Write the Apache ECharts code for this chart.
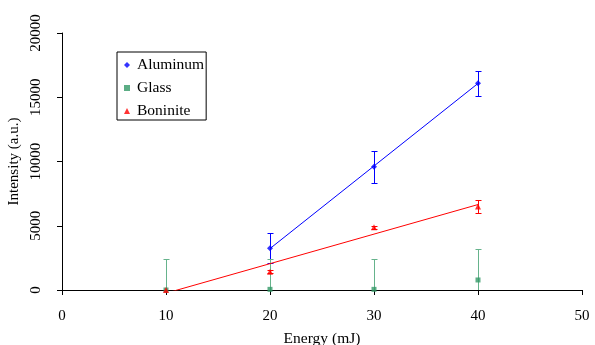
<!DOCTYPE html>
<html>
<head>
<meta charset="utf-8">
<script src="https://cdn.jsdelivr.net/npm/echarts@6/dist/echarts.min.js"></script>
<style>
html,body{margin:0;padding:0;background:#fff;}
#chart{width:595px;height:345px;}
</style>
</head>
<body>
<div id="chart"></div>
<script>
// Data
var energy = [10, 20, 30, 40];
var seriesNames = ['Aluminum', 'Glass', 'Boninite'];
var aluminumX = [20, 30, 40];
var aluminumY = [3250, 9600, 16080];
var aluminumErr = [1150, 1250, 1000];
var glassY = [0, 50, 50, 780];
var glassErr = [2400, 2400, 2400, 2400];
var boniniteY = [0, 1420, 4880, 6500];
var boniniteErr = [0, 120, 100, 480];
var aluminumFit = [[20, 3225], [40, 16075]];
var boniniteFit = [[10, -250], [40, 6650]];
var xTicks = [0, 10, 20, 30, 40, 50];
var yTicks = [0, 5000, 10000, 15000, 20000];

var FONT = '"Liberation Serif", "DejaVu Serif", serif';

function pts(xs, ys) { return xs.map(function (x, i) { return [x, ys[i]]; }); }
function errPts(xs, ys, es) { return xs.map(function (x, i) { return [x, ys[i], es[i]]; }); }

function errorBars(color) {
  return function (params, api) {
    var x = api.value(0), y = api.value(1), e = api.value(2);
    if (!e) return null;
    var hi = api.coord([x, y + e]);
    var lo = api.coord([x, y - e]);
    var cx = Math.round(hi[0]) + 0.5;
    var yh = Math.round(hi[1]) + 0.5, yl = Math.round(lo[1]) + 0.5;
    var st = { stroke: color, lineWidth: 1 };
    return {
      type: 'group',
      children: [
        { type: 'line', shape: { x1: cx, y1: yh, x2: cx, y2: yl }, style: st },
        { type: 'line', shape: { x1: cx - 3, y1: yh, x2: cx + 3, y2: yh }, style: st },
        { type: 'line', shape: { x1: cx - 3, y1: yl, x2: cx + 3, y2: yl }, style: st }
      ]
    };
  };
}

var BLUE = '#0000ff', GREEN = '#339966', GREEN_ERR = '#66b38c', RED = '#ff0000';

var chart = echarts.init(document.getElementById('chart'), null, { renderer: 'canvas' });
chart.setOption({
  animation: false,
  backgroundColor: '#ffffff',
  textStyle: { fontFamily: FONT },
  grid: { left: 62, right: 13, top: 33, bottom: 55, containLabel: false, outerBoundsMode: 'none' },
  legend: {
    orient: 'vertical',
    left: 117, top: 52,
    data: [
      { name: seriesNames[0], icon: 'diamond' },
      { name: seriesNames[1], icon: 'rect' },
      { name: seriesNames[2], icon: 'triangle' }
    ],
    itemWidth: 6, itemHeight: 6, itemGap: 7,
    padding: [5, 2, 1, 7],
    borderColor: '#000', borderWidth: 1,
    textStyle: { fontFamily: FONT, fontSize: 15.5, color: '#000', lineHeight: 16, padding: [0, 0, 0, 2] }
  },
  xAxis: {
    type: 'value', min: xTicks[0], max: xTicks[xTicks.length - 1], interval: 10,
    name: 'Energy (mJ)', nameLocation: 'middle', nameGap: 41,
    nameTextStyle: { fontFamily: FONT, fontSize: 15.5, color: '#000' },
    axisLine: { onZero: false, lineStyle: { color: '#000', width: 1 } },
    axisTick: { show: true, inside: false, length: 5, lineStyle: { color: '#000' } },
    axisLabel: { fontFamily: FONT, fontSize: 15, color: '#000', margin: 19 },
    splitLine: { show: false }
  },
  yAxis: {
    type: 'value', min: yTicks[0], max: yTicks[yTicks.length - 1], interval: 5000,
    name: 'Intensity (a.u.)', nameLocation: 'middle', nameGap: 33, nameRotate: 90,
    nameTextStyle: { fontFamily: FONT, fontSize: 15, color: '#000' },
    axisLine: { show: true, lineStyle: { color: '#000', width: 1 } },
    axisTick: { show: true, inside: false, length: 5, lineStyle: { color: '#000' } },
    axisLabel: {
      fontFamily: FONT, fontSize: 15, color: '#000', rotate: 90, margin: 18,
      formatter: function (v) { return String(v); }
    },
    splitLine: { show: false }
  },
  series: [
    {
      name: 'alErr', type: 'custom', renderItem: errorBars(BLUE), clip: true,
      data: errPts(aluminumX, aluminumY, aluminumErr), z: 2, silent: true
    },
    {
      name: 'glErr', type: 'custom', renderItem: errorBars(GREEN_ERR), clip: true,
      data: errPts(energy, glassY, glassErr), z: 3, silent: true
    },
    {
      name: 'boErr', type: 'custom', renderItem: errorBars(RED), clip: true,
      data: errPts(energy, boniniteY, boniniteErr), z: 3, silent: true
    },
    {
      name: 'alFit', type: 'line', data: aluminumFit, showSymbol: false, symbol: 'none',
      lineStyle: { color: BLUE, width: 1 }, z: 4, silent: true
    },
    {
      name: 'boFit', type: 'line', data: boniniteFit, showSymbol: false, symbol: 'none',
      lineStyle: { color: RED, width: 1 }, z: 4, silent: true, clip: true
    },
    {
      name: seriesNames[0], type: 'scatter', data: pts(aluminumX, aluminumY),
      symbol: 'diamond', symbolSize: 6, itemStyle: { color: BLUE }, z: 6
    },
    {
      name: seriesNames[1], type: 'scatter', data: pts(energy, glassY),
      symbol: 'rect', symbolSize: 5, itemStyle: { color: GREEN }, z: 5
    },
    {
      name: seriesNames[2], type: 'scatter', data: pts(energy, boniniteY),
      symbol: 'triangle', symbolSize: 6, itemStyle: { color: RED }, z: 6
    }
  ]
});
</script>
</body>
</html>
